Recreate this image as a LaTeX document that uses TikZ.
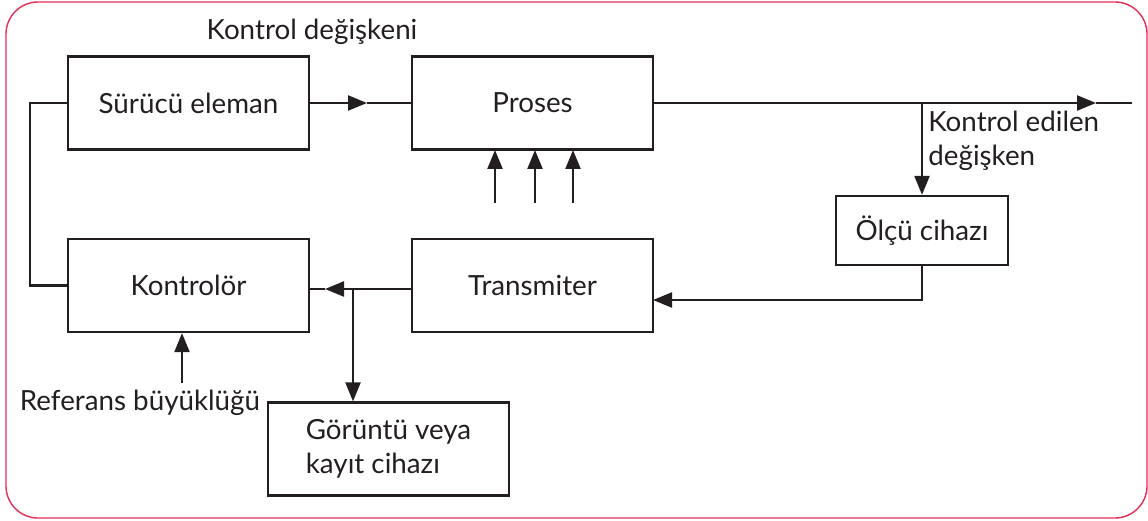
\documentclass[tikz,border=0pt]{standalone}
\usepackage{fontspec}
\setmainfont{Lato}
\usetikzlibrary{arrows.meta, positioning}

\definecolor{inkgray}{RGB}{35,31,32}
\definecolor{framered}{RGB}{230,45,85}

\tikzset{
  block/.style={draw=inkgray, line width=1.3pt, minimum width=4.82cm, minimum height=1.86cm,
    inner sep=0pt, font=\fontsize{15.8}{19}\selectfont, text=inkgray},
  lbl/.style={font=\fontsize{15.8}{19}\selectfont, text=inkgray, inner sep=0pt},
  wire/.style={draw=inkgray, line width=1.3pt},
  arr/.style={wire, -{Triangle[length=3.8mm, width=3mm]}}
}

\begin{document}
\begin{tikzpicture}[x=0.02cm, y=-0.02cm]
            \useasboundingbox (0,0) rectangle (1148,520);
            \draw[framered, line width=0.8pt, rounded corners=0.64cm] (6,2) rectangle (1147,518);

            % blocks
            \node[block] (sur) at (188.5,103) {Sürücü eleman};
            \node[block] (pro) at (532.5,103) {Proses};
            \node[block] (kon) at (188.5,285.5) {Kontrolör};
            \node[block] (tra) at (532.5,285.5) {Transmiter};
            \node[block, minimum width=3.44cm, minimum height=1.38cm] (olc) at (922,230.5) {Ölçü cihazı};
            \node[block, align=left] (gor) at (388.5,449) {Görüntü veya\\kayıt cihazı};

            % labels
            \node[lbl] (kd) at (312,32) {Kontrol değişkeni};
            \node[lbl, anchor=west, align=left] (ked) at (928,141) {Kontrol edilen\\değişken};
            \node[lbl] (ref) at (140,403) {Referans büyüklüğü};

            % forward path
            \coordinate (m1) at (367,103);
            \draw[arr] (sur.east) -- (m1);
            \draw[wire] (m1) -- (pro.west);
            \coordinate (m2) at (1096,103);
            \coordinate (out) at (1132,103);
            \draw[arr] (pro.east) -- (m2);
            \draw[wire] (m2) -- (out);
            \foreach \x in {495,535,573}
                \draw[arr] (\x,203) -- (\x,150);

            % feedback path
            \coordinate (br1) at (olc.north |- pro.east);
            \draw[arr] (br1) -- (olc.north);
            \coordinate (tin) at (653,300);
            \draw[arr] (olc.south) |- (tin);
            \coordinate (tout) at (412,289);
            \coordinate (m3) at (325,289);
            \draw[arr] (tout) -- (m3);
            \draw[wire] (m3) -- (kon.east |- m3);
            \coordinate (br2) at (353,289);
            \draw[arr] (br2) -- (br2 |- gor.north);
            \draw[wire] (kon.west) -- ++(-37,0) |- (sur.west);
            \coordinate (rin) at (182,383);
            \draw[arr] (rin) -- (rin |- kon.south);
        \end{tikzpicture}
\end{document}
